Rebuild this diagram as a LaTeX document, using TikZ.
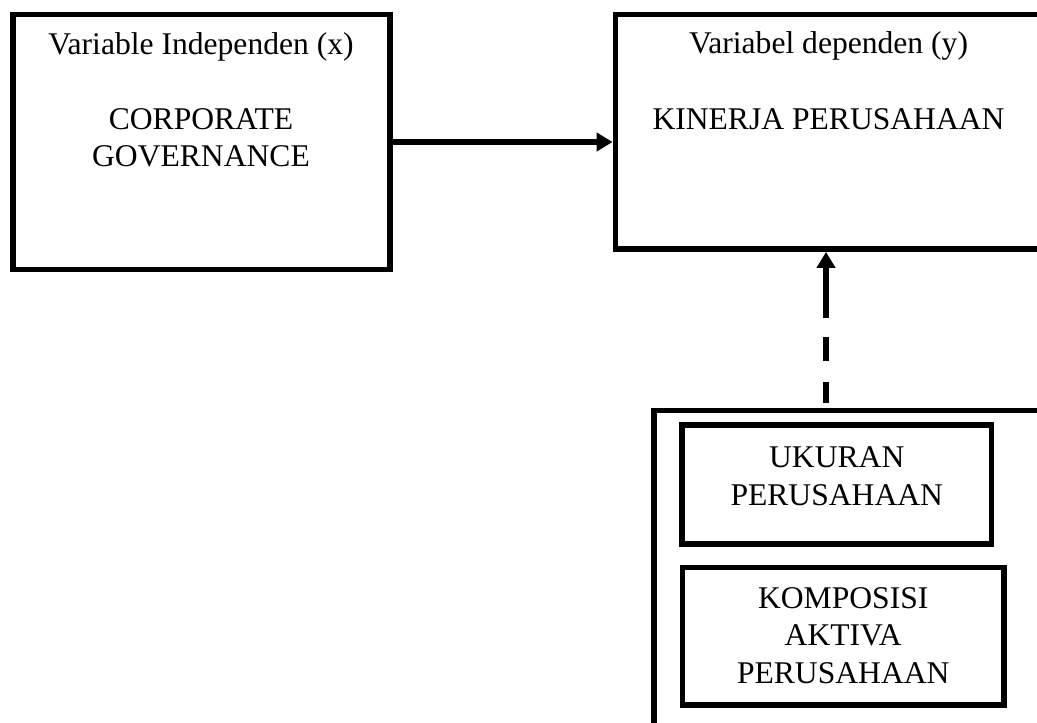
\documentclass[tikz,border=0pt]{standalone}
\usepackage{fontspec}
\setmainfont{Liberation Serif}
\usetikzlibrary{arrows.meta}
\begin{document}
\begin{tikzpicture}[x=0.5pt,y=-0.5pt]
  \useasboundingbox (0,0) rectangle (1037,722);
  \clip (0,0) rectangle (1037,722);
  \tikzstyle{vbox} = [draw=black, line width=2.9pt, rectangle, inner sep=0pt]
  \tikzstyle{vtext} = [align=center, inner sep=0pt, anchor=base, font=\fontsize{15.8pt}{18.6pt}\selectfont]
  \tikzstyle{conn} = [line width=2.9pt, -{Triangle[length=8pt,width=9pt]}]
  \tikzstyle{dconn} = [conn, dash pattern=on 10.5pt off 10.5pt on 12pt off 9.5pt on 30pt off 2.5pt, dash phase=72.5pt]

  % boxes
  \node[vbox, minimum width=188.5pt, minimum height=127.5pt] (xbox) at (201.5,142) {};
  \node[vbox, minimum width=213pt, minimum height=117.25pt] (ybox) at (828.5,131.75) {};
  \node[vbox, minimum width=203pt, minimum height=174.75pt] (mod) at (857,585.25) {};
  \node[vbox, minimum width=154.75pt, minimum height=59.5pt] (size) at (836.75,484.5) {};
  \node[vbox, minimum width=160.75pt, minimum height=68.75pt] (asset) at (843.25,636.25) {};

  % texts
  \node[vtext] (xtext) at (201,166.5) {Variable Independen (x)\\[19pt]CORPORATE\\GOVERNANCE};
  \node[vtext] (ytext) at (828.5,129) {Variabel dependen (y)\\[19pt]KINERJA PERUSAHAAN};
  \node[vtext] (sizetext) at (836.75,505) {UKURAN\\PERUSAHAAN};
  \node[vtext] (assettext) at (843.25,683) {KOMPOSISI\\AKTIVA\\PERUSAHAAN};

  % arrows
  \coordinate (dx) at (826,0);
  \draw[conn] (xbox.east) -- (xbox.east -| ybox.west);
  \draw[dconn] (mod.north -| dx) -- (ybox.south -| dx);
\end{tikzpicture}
\end{document}
